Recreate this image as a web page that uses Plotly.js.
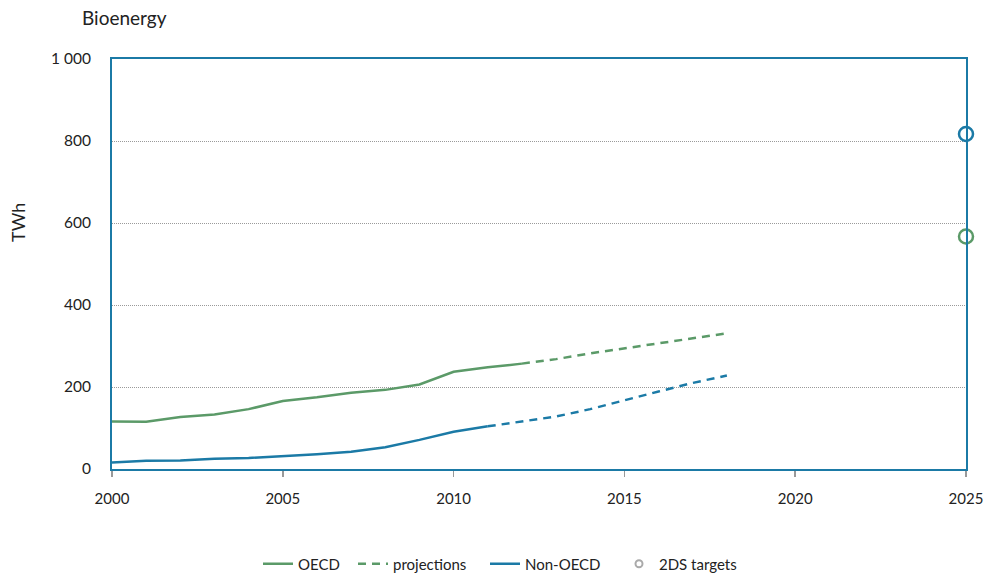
<!DOCTYPE html>
<html>
<head>
<meta charset="utf-8">
<script src="https://cdn.plot.ly/plotly-3.0.1.min.js"></script>
<style>html,body{margin:0;padding:0;background:#fff;}#chart{width:987px;height:574px;}</style>
</head>
<body>
<div id="chart"></div>
<script>
// ---- data ----
const histYearsOECD = [2000,2001,2002,2003,2004,2005,2006,2007,2008,2009,2010,2011,2012];
const oecdHist = [116,115,127,133,146,166,175,186,193,206,237,248,257];
const projYearsOECD = [2012,2013,2014,2015,2016,2017,2018];
const oecdProj = [257,268,282,294,307,319,331];

const histYearsNon = [2000,2001,2002,2003,2004,2005,2006,2007,2008,2009,2010,2011];
const nonOecdHist = [16,20,21,25,27,31,36,42,53,71,91,104];
const projYearsNon = [2011,2012,2013,2014,2015,2016,2017,2018];
const nonOecdProj = [104,116,128,146,168,189,210,228];

const targetYear = [2025];
const oecdTarget = [567];
const nonOecdTarget = [817];

const yTickVals = [0,200,400,600,800,1000];
const yTickText = ['0','200','400','600','800','1 000'];
const xTickVals = [2000,2005,2010,2015,2020,2025];

const GREEN = '#5b9a68';
const BLUE = '#1b7aa6';
const FONT = 'Lato, "Open Sans", sans-serif';

const traces = [
  {x: histYearsOECD, y: oecdHist, name: 'OECD', mode: 'lines',
   line: {color: GREEN, width: 2.5}, legend: 'legend', hoverinfo: 'skip'},
  {x: projYearsOECD, y: oecdProj, name: 'projections', mode: 'lines',
   line: {color: GREEN, width: 2.5, dash: '8px,6px'}, legend: 'legend2', hoverinfo: 'skip'},
  {x: histYearsNon, y: nonOecdHist, name: 'Non-OECD', mode: 'lines',
   line: {color: BLUE, width: 2.5}, legend: 'legend3', hoverinfo: 'skip'},
  {x: projYearsNon, y: nonOecdProj, name: 'Non-OECD projections', mode: 'lines', showlegend: false,
   line: {color: BLUE, width: 2.5, dash: '8px,6px'}, hoverinfo: 'skip'},
  {x: targetYear, y: oecdTarget, name: 'OECD 2DS target', mode: 'markers', showlegend: false, cliponaxis: false,
   marker: {symbol: 'circle-open', size: 14, color: GREEN, line: {width: 2.5, color: GREEN}}},
  {x: targetYear, y: nonOecdTarget, name: 'Non-OECD 2DS target', mode: 'markers', showlegend: false, cliponaxis: false,
   marker: {symbol: 'circle-open', size: 14, color: BLUE, line: {width: 2.5, color: BLUE}}},
  {x: [null], y: [null], name: '2DS targets', mode: 'markers', legend: 'legend4',
   marker: {symbol: 'circle-open', size: 7, color: '#aaaaaa', line: {width: 2, color: '#aaaaaa'}}}
];

const legBase = {orientation: 'h', yanchor: 'middle', y: 1 - 564/574, yref: 'container',
  xanchor: 'left', xref: 'container',
  font: {family: FONT, size: 15, color: '#222'}, bgcolor: 'rgba(0,0,0,0)', borderwidth: 0, itemwidth: 30};

const layout = {
  width: 987, height: 574,
  margin: {l: 112, r: 21, t: 59, b: 105},
  paper_bgcolor: '#fff', plot_bgcolor: '#fff',
  font: {family: FONT, size: 15, color: '#222'},
  title: {text: 'Bioenergy', x: 82/987, xref: 'container', xanchor: 'left',
          y: 1 - 18/574, yref: 'container', yanchor: 'middle',
          font: {family: FONT, size: 19, color: '#222'}},
  xaxis: {range: [2000, 2025], tickvals: xTickVals, ticks: 'outside', ticklen: 6, tickcolor: '#999',
          tickwidth: 1.5, showgrid: false, zeroline: false, showline: true, linecolor: BLUE, linewidth: 2,
          mirror: true, ticklabelstandoff: 9, tickfont: {family: FONT, size: 15, color: '#222'}},
  yaxis: {range: [0, 1000], tickvals: yTickVals, ticktext: yTickText, ticks: '', showgrid: true,
          gridcolor: '#9a9a9a', griddash: '1px,1px', gridwidth: 1, zeroline: false, showline: true,
          linecolor: BLUE, linewidth: 2, mirror: true, ticklabelstandoff: 16,
          tickfont: {family: FONT, size: 15.5, color: '#222'}},
  showlegend: true,
  legend: Object.assign({}, legBase, {x: 258/987}),
  legend2: Object.assign({}, legBase, {x: 353/987}),
  legend3: Object.assign({}, legBase, {x: 485/987}),
  legend4: Object.assign({}, legBase, {x: 619/987}),
  annotations: [{text: 'TWh', xref: 'paper', yref: 'paper', x: (18-112)/854, y: (469.4-223)/410.5,
                 xanchor: 'center', yanchor: 'middle', textangle: -90, showarrow: false,
                 font: {family: FONT, size: 18, color: '#222'}}]
};

Plotly.newPlot('chart', traces, layout, {displayModeBar: false, staticPlot: true});
</script>
</body>
</html>
